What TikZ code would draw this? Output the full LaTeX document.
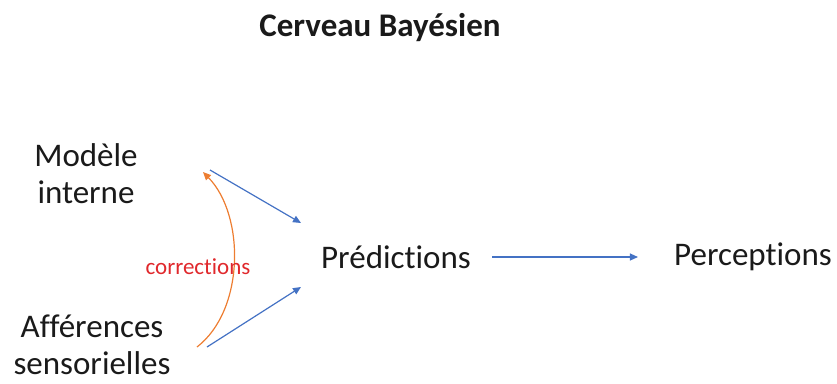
\documentclass[tikz,border=0pt]{standalone}
\usepackage{fontspec}
\setmainfont[Ligatures=NoCommon]{Carlito}
\usetikzlibrary{arrows.meta,positioning}
\definecolor{ink}{HTML}{1A1A1A}
\definecolor{flow}{HTML}{4472C4}
\definecolor{fix}{HTML}{ED7D31}
\definecolor{fixtxt}{HTML}{E0282C}

\begin{document}
\begin{tikzpicture}[
  x=1pt, y=1pt,
  lbl/.style={font=\fontsize{33}{37}\selectfont, text=ink, align=center, inner sep=0pt},
  ttl/.style={font=\fontsize{33}{38}\selectfont\bfseries, text=ink, inner sep=0pt},
  ann/.style={font=\fontsize{23}{27}\selectfont, text=fixtxt, inner sep=0pt},
  ar/.style={-{Triangle[length=8pt,width=7pt]}, draw=flow, line width=1.2pt},
  arc/.style={-{Triangle[length=8pt,width=7pt]}, draw=fix, line width=1.2pt},
]
\useasboundingbox (0,0) rectangle (837,-383);

%% ---------------- title ----------------
\node[ttl] (title) at (380,-28) {Cerveau Bayésien};

%% ---------------- sources ----------------
\node[lbl] (modele) at (86,-174) {Modèle\\interne};
\node[lbl] (aff)    at (92,-345) {Afférences\\sensorielles};

%% ---------------- outputs ----------------
\node[lbl] (pred) at (396,-257) {Prédictions};
\node[lbl] (perc) at (753,-257) {Perceptions};

%% arrow ends
\coordinate (m0) at (210,-170);
\coordinate (a0) at (207,-347);
\coordinate (p1) at (301,-223);
\coordinate (p2) at (301,-287);
\coordinate (c0) at (197,-347);
\coordinate (c1) at (203,-172);

\draw[ar] (m0) -- (p1);
\draw[ar] (a0) -- (p2);
\draw[ar] (pred.east) ++(21,0) -- ([xshift=-36pt]perc.west);

%% correction loop
\draw[arc] (c0) .. controls (245,-310) and (245,-215) .. (c1);
\node[ann] (corr) at (198,-267) {corrections};

\end{tikzpicture}
\end{document}
